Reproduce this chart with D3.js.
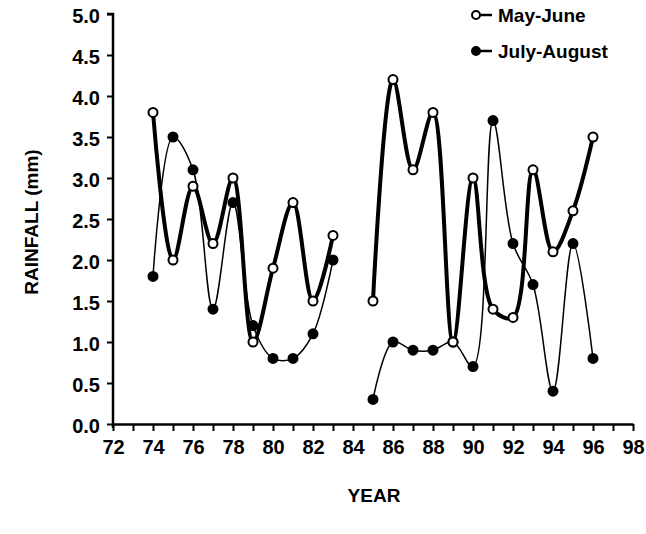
<!DOCTYPE html>
<html lang="en">
<head>
  <meta charset="UTF-8">
  <script src="https://d3js.org/d3.v7.min.js"></script>
  <title>Rainfall</title>
  <style>
    body { margin: 0; background: #fff; }
    svg text { font-family: "Liberation Sans", Arial, sans-serif; font-weight: bold; fill: #000; }
  </style>
</head>
<body>
  <svg width="646" height="534"></svg>
  <script>
    // years, 84 is a gap (no data)
    const years = [74, 75, 76, 77, 78, 79, 80, 81, 82, 83, 84, 85, 86, 87, 88, 89, 90, 91, 92, 93, 94, 95, 96]
    const mayJune = [3.8, 2.0, 2.9, 2.2, 3.0, 1.0, 1.9, 2.7, 1.5, 2.3, null, 1.5, 4.2, 3.1, 3.8, 1.0, 3.0, 1.4, 1.3, 3.1, 2.1, 2.6, 3.5]
    const julyAug = [1.8, 3.5, 3.1, 1.4, 2.7, 1.2, 0.8, 0.8, 1.1, 2.0, null, 0.3, 1.0, 0.9, 0.9, 1.0, 0.7, 3.7, 2.2, 1.7, 0.4, 2.2, 0.8]
    const xTicks = d3.range(72, 99, 2)
    const yTicks = d3.range(0, 5.01, 0.5)

    const svg = d3.select('svg')
    const x = d3.scaleLinear().domain([72, 98]).range([113, 633])
    const y = d3.scaleLinear().domain([0, 5]).range([424, 14])

    // y axis
    svg.append('g')
      .attr('transform', 'translate(113,0)')
      .call(d3.axisLeft(y).tickValues(yTicks).tickFormat(d3.format('.1f')).tickSize(6).tickPadding(7))
      .call(g => g.select('.domain').attr('stroke-width', 2.5).attr('d', 'M-6,14H0V428'))
      .call(g => g.selectAll('.tick line').attr('stroke-width', 2))
      .call(g => g.selectAll('.tick text').style('font-size', '20px').attr('dy', '0.4em'))

    // x axis with minor ticks each year
    svg.append('g')
      .attr('transform', 'translate(0,424)')
      .call(d3.axisBottom(x).ticks(26).tickFormat('').tickSize(7).tickSizeOuter(0))
      .call(g => g.select('.domain').attr('stroke-width', 2.5))
      .call(g => g.selectAll('.tick line').attr('stroke-width', 2))
    svg.append('g')
      .attr('transform', 'translate(0,424)')
      .call(d3.axisBottom(x).tickValues(xTicks).tickSize(0).tickPadding(16))
      .call(g => g.select('.domain').remove())
      .call(g => g.selectAll('.tick text').style('font-size', '20px'))

    svg.append('text')
      .attr('x', 374).attr('y', 502)
      .attr('text-anchor', 'middle')
      .style('font-size', '19px')
      .text('YEAR')

    svg.append('text')
      .attr('transform', 'translate(38,222) rotate(-90)')
      .attr('text-anchor', 'middle')
      .style('font-size', '19px')
      .text('RAINFALL (mm)')

    const series = [
      { name: 'May-June', values: mayJune, width: 4, fill: '#fff' },
      { name: 'July-August', values: julyAug, width: 1.5, fill: '#000' }
    ]

    const line = d3.line()
      .defined(d => d[1] != null)
      .x(d => x(d[0]))
      .y(d => y(d[1]))
      .curve(d3.curveCatmullRom.alpha(0.5))

    // thin line under, thick over
    series.slice().reverse().forEach(s => {
      const pts = years.map((yr, i) => [yr, s.values[i]])
      svg.append('path')
        .attr('d', line(pts))
        .attr('fill', 'none')
        .attr('stroke', '#000')
        .attr('stroke-width', s.width)
        .attr('stroke-linejoin', 'round')
    })

    series.slice().reverse().forEach(s => {
      const pts = years.map((yr, i) => [yr, s.values[i]]).filter(d => d[1] != null)
      svg.append('g').selectAll('circle')
        .data(pts)
        .join('circle')
        .attr('cx', d => x(d[0]))
        .attr('cy', d => y(d[1]))
        .attr('r', 4.5)
        .attr('fill', s.fill)
        .attr('stroke', '#000')
        .attr('stroke-width', 2)
    })

    // legend
    const legend = svg.append('g').attr('transform', 'translate(474,15)')
    series.forEach((s, i) => {
      const g = legend.append('g').attr('transform', `translate(0,${i * 36})`)
      g.append('line').attr('x1', 0).attr('x2', 18).attr('y1', 0).attr('y2', 0)
        .attr('stroke', '#000').attr('stroke-width', 2.5)
      g.append('circle').attr('cx', 2).attr('cy', 0).attr('r', 4)
        .attr('fill', s.fill).attr('stroke', '#000').attr('stroke-width', 2)
      g.append('text').attr('x', 24).attr('y', 7).style('font-size', '19px').text(s.name)
    })
  </script>
</body>
</html>
